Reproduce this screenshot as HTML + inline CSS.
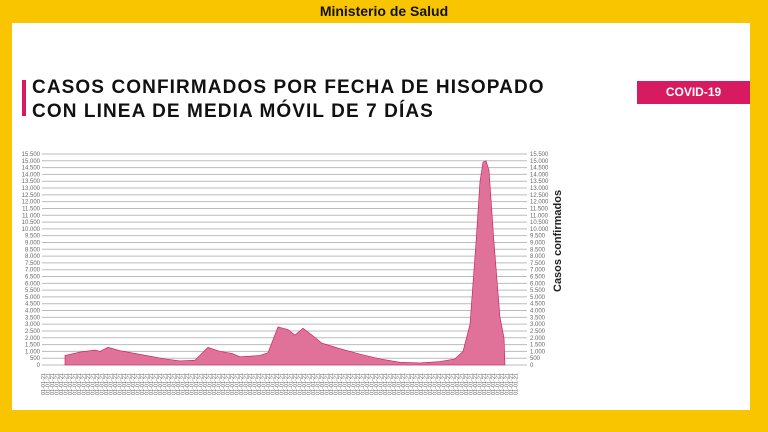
<!DOCTYPE html><html><head><meta charset="utf-8"><style>
body{margin:0;width:768px;height:432px;background:#f8c500;position:relative;overflow:hidden;font-family:"Liberation Sans",sans-serif}
.top{position:absolute;top:3px;left:0;width:768px;text-align:center;font-weight:bold;font-size:14px;color:#111}
.panel{position:absolute;left:12px;top:23px;width:738px;height:387px;background:#fff}
.bar{position:absolute;left:22px;top:80px;width:4px;height:36px;background:#d81b60}
.t{position:absolute;left:32px;font-weight:bold;font-size:19px;color:#111;letter-spacing:1.1px}
.badge{position:absolute;left:637px;top:81px;width:113px;height:23px;background:#d81b60;color:#fff;font-weight:bold;font-size:12px;text-align:center;line-height:23px}
</style></head><body>
<div class="top">Ministerio de Salud</div>
<div class="panel"></div>
<div class="bar"></div>
<div class="t" style="top:77px">CASOS CONFIRMADOS POR FECHA DE HISOPADO</div>
<div class="t" style="top:101px">CON LINEA DE MEDIA MÓVIL DE 7 DÍAS</div>
<div class="badge">COVID-19</div>
<svg style="position:absolute;left:0;top:0" width="768" height="432">
<g id="g" stroke="#bbb" stroke-width="1"></g>
<g id="l" font-size="6" fill="#666"></g>
<path id="a" fill="#e0729a" stroke="#c2185b" stroke-width="0.6"/>
<text transform="translate(561,292) rotate(-90)" font-size="11" font-weight="bold" fill="#222">Casos confirmados</text>
<g id="x" font-size="5.5" fill="#666"></g>
</svg>
<script>
var Y=v=>365-v*211/15500,s="",L="";
for(var v=0;v<=15500;v+=500){var y=Y(v);s+=`<line x1="42" x2="527" y1="${y}" y2="${y}"/>`;var t=v.toLocaleString('de-DE');L+=`<text x="40" y="${y+2}" text-anchor="end">${t}</text><text x="530" y="${y+2}">${t}</text>`}
document.getElementById('g').innerHTML=s;document.getElementById('l').innerHTML=L;
var p=[[65,0],[65,700],[80,950],[95,1100],[100,1000],[108,1300],[120,1050],[135,850],[150,650],[165,450],[180,300],[195,350],[208,1300],[220,1000],[232,850],[240,600],[260,700],[268,900],[278,2800],[288,2600],[295,2200],[303,2700],[312,2200],[322,1600],[340,1200],[360,800],[380,450],[400,200],[420,150],[440,250],[455,450],[463,1000],[470,3000],[476,9000],[480,13500],[483,14900],[486,15000],[489,14300],[494,9000],[500,3500],[504,2000],[505,0]];
document.getElementById('a').setAttribute('d','M'+p.map(q=>q[0]+','+Y(q[1])).join('L')+'Z');
var X="";for(var x=45;x<520;x+=4.5)X+=`<text transform="translate(${x},373) rotate(-90)" text-anchor="end">01-01-21</text>`;
document.getElementById('x').innerHTML=X;
</script>
</body></html>
